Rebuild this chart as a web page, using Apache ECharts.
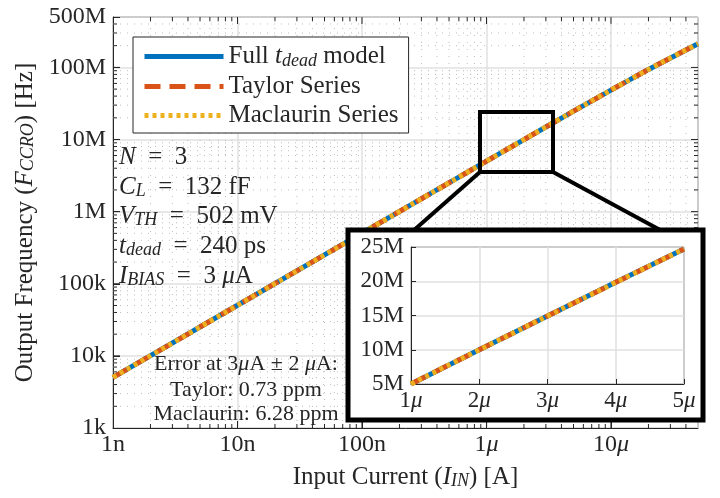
<!DOCTYPE html>
<html>
<head>
<meta charset="utf-8">
<script src="https://cdn.jsdelivr.net/npm/echarts@6/dist/echarts.min.js"></script>
<style>
html, body { margin: 0; padding: 0; background: #fff; }
#chart { width: 720px; height: 498px; }
</style>
</head>
<body>
<div id="chart"></div>
<script>
// input current [A] and output frequency [Hz]
var currentA = [1e-9, 1e-8, 1e-7, 1e-6, 2e-6, 3e-6, 4e-6, 5e-6, 1e-5, 2e-5, 5e-5];
var fullModelHz = [5.03e3, 5.03e4, 5.03e5, 5.01e6, 9.99e6, 14.93e6, 19.84e6, 24.71e6, 48.5e6, 93.8e6, 213e6];
var taylorHz = [5.03e3, 5.03e4, 5.03e5, 5.01e6, 9.99e6, 14.93e6, 19.84e6, 24.71e6, 48.5e6, 93.8e6, 213e6];
var maclaurinHz = [5.03e3, 5.03e4, 5.03e5, 5.01e6, 9.99e6, 14.93e6, 19.84e6, 24.71e6, 48.5e6, 93.8e6, 213e6];

// tick labels
var xTickValues = [1e-9, 1e-8, 1e-7, 1e-6, 1e-5];
var xTickLabels = ['1n', '10n', '100n', '1μ', '10μ'];
var yTickValues = [1e3, 1e4, 1e5, 1e6, 1e7, 1e8, 5e8];
var yTickLabels = ['1k', '10k', '100k', '1M', '10M', '100M', '500M'];
var insetXTickValues = [1e-6, 2e-6, 3e-6, 4e-6, 5e-6];
var insetXTickLabels = ['1μ', '2μ', '3μ', '4μ', '5μ'];
var insetYTickValues = [5e6, 10e6, 15e6, 20e6, 25e6];
var insetYTickLabels = ['5M', '10M', '15M', '20M', '25M'];

var X_MIN = 1e-9, X_MAX = 5e-5, Y_MIN = 1e3, Y_MAX = 5e8;
var FONT = 'Liberation Serif';
var INK = '#262626';
var COLORS = ['#0072BD', '#D95319', '#EDB120'];
var DASH = [16, 9], DOT = [4, 4], LW = 5;

// grid/tick positions on the log axes: [value, other-axis min, major?]
var xGridPos = [], yGridPos = [];
for (var e = -9; e <= -5; e++) {
  for (var m = 1; m <= 9; m++) {
    var v = m * Math.pow(10, e);
    if (v > X_MIN * 1.001 && v < X_MAX * 0.999) xGridPos.push([v, Y_MIN, m === 1 ? 1 : 0]);
  }
}
for (var e2 = 3; e2 <= 8; e2++) {
  for (var m2 = 1; m2 <= 9; m2++) {
    var w = m2 * Math.pow(10, e2);
    if (w > Y_MIN * 1.001 && w < Y_MAX * 0.999) yGridPos.push([X_MIN, w, m2 === 1 ? 1 : 0]);
  }
}

function pick(values, labels, v, logScale) {
  for (var i = 0; i < values.length; i++) {
    var d = logScale ? Math.abs(Math.log10(v) - Math.log10(values[i])) : Math.abs(v - values[i]) / values[i];
    if (d < 0.01) return labels[i].replace('μ', '{i|μ}');
  }
  return '';
}

function pairs(xs, ys, lo, hi) {
  var out = [];
  for (var i = 0; i < xs.length; i++) {
    if (lo === undefined || (xs[i] >= lo && xs[i] <= hi)) out.push([xs[i], ys[i]]);
  }
  return out;
}

// dotted minor grid + mirrored ticks, positioned through the axes
function gridRender(vertical) {
  return function (params, api) {
    var a, b;
    var major = api.value(2) === 1;
    if (vertical) {
      a = api.coord([api.value(0), Y_MIN]);
      b = api.coord([api.value(0), Y_MAX]);
    } else {
      a = api.coord([X_MIN, api.value(1)]);
      b = api.coord([X_MAX, api.value(1)]);
    }
    var t = major ? 7 : 4;
    var tickStyle = { stroke: INK, lineWidth: 1 };
    var children = [
      { type: 'line', shape: vertical ? { x1: a[0], y1: a[1], x2: a[0], y2: a[1] - t } : { x1: a[0], y1: a[1], x2: a[0] + t, y2: a[1] },
        style: tickStyle },
      { type: 'line', shape: vertical ? { x1: b[0], y1: b[1], x2: b[0], y2: b[1] + t } : { x1: b[0], y1: b[1], x2: b[0] - t, y2: b[1] },
        style: tickStyle }
    ];
    if (!major) {
      children.unshift({ type: 'line', shape: { x1: a[0], y1: a[1], x2: b[0], y2: b[1] },
        style: { stroke: '#bdbdbd', lineWidth: 1, lineDash: [1, 6] } });
    }
    return { type: 'group', children: children };
  };
}

function makeRich(size) {
  return {
    i: { fontStyle: 'italic', fontFamily: FONT, fontSize: size, color: INK },
    s: { fontStyle: 'italic', fontFamily: FONT, fontSize: Math.round(size * 0.7), color: INK, lineHeight: 9, verticalAlign: 'bottom' },
    n: { fontFamily: FONT, fontSize: size, color: INK, lineHeight: size + 2 }
  };
}

function mathText(x, y, text) {
  return {
    type: 'text', x: x, y: y, z: 6,
    style: {
      text: text, fill: INK,
      font: '25px "' + FONT + '"',
      verticalAlign: 'middle',
      rich: makeRich(25)
    }
  };
}

function centerText(x, y, text) {
  return {
    type: 'text', x: x, y: y, z: 6,
    style: {
      text: text, fill: INK,
      font: '22px "' + FONT + '"',
      align: 'center', verticalAlign: 'middle',
      rich: { i: { fontStyle: 'italic', fontFamily: FONT, fontSize: 22, color: INK } }
    }
  };
}

var chart = echarts.init(document.getElementById('chart'));

chart.setOption({
  animation: false,
  grid: [
    { left: 113, top: 17, right: 22, bottom: 70, show: true, borderColor: INK, borderWidth: 1, z: 0,
      containLabel: false, outerBoundsMode: 'none' },
    { left: 411, top: 247, right: 36, bottom: 114, show: true, borderColor: INK, borderWidth: 1, backgroundColor: '#fff', z: 10,
      containLabel: false, outerBoundsMode: 'none' }
  ],
  legend: {
    left: 133, top: 37, orient: 'vertical',
    itemWidth: 79, itemHeight: 26, itemGap: 4, itemTextGap: 7,
    padding: [7, 10, 5, 9],
    borderColor: INK, borderWidth: 1, borderRadius: 0, backgroundColor: '#fff',
    itemStyle: { opacity: 0 },
    lineStyle: { width: LW },
    data: ['Full', 'Taylor Series', 'Maclaurin Series'],
    formatter: function (name) {
      if (name === 'Full') return '{n|Full }{i|t}{s|dead}{n| model}';
      return '{n|' + name + '}';
    },
    textStyle: { fontFamily: FONT, fontSize: 25, color: INK, rich: makeRich(25) }
  },
  xAxis: [
    {
      type: 'log', logBase: 10, gridIndex: 0, min: X_MIN, max: X_MAX,
      name: 'Input Current ({i|I}{s|IN}) [A]', nameLocation: 'middle', nameGap: 37,
      nameTextStyle: { fontFamily: FONT, fontSize: 25, color: INK, rich: makeRich(25) },
      axisLine: { lineStyle: { color: INK, width: 1 } },
      axisTick: { inside: true, length: 7, lineStyle: { color: INK } },
      splitLine: { show: true, lineStyle: { color: '#e0e0e0', width: 1.5 } },
      axisLabel: {
        fontFamily: FONT, fontSize: 24, color: INK, margin: 5, rich: makeRich(24),
        showMaxLabel: false,
        formatter: function (v) { return pick(xTickValues, xTickLabels, v, true); }
      }
    },
    {
      type: 'value', gridIndex: 1, min: 1e-6, max: 5e-6, interval: 1e-6, z: 10,
      axisLine: { lineStyle: { color: INK, width: 1 } },
      axisTick: { inside: true, length: 5, lineStyle: { color: INK } },
      splitLine: { show: true, lineStyle: { color: '#e0e0e0', width: 1.5 } },
      axisLabel: {
        fontFamily: FONT, fontSize: 23, color: INK, margin: 5, rich: makeRich(23),
        formatter: function (v) { return pick(insetXTickValues, insetXTickLabels, v, false); }
      }
    }
  ],
  yAxis: [
    {
      type: 'log', logBase: 10, gridIndex: 0, min: Y_MIN, max: Y_MAX, splitNumber: 6,
      name: 'Output Frequency ({i|F}{s|CCRO}) [Hz]', nameLocation: 'middle', nameGap: 63, nameRotate: 90,
      nameTextStyle: { fontFamily: FONT, fontSize: 25, color: INK, rich: makeRich(25) },
      axisLine: { lineStyle: { color: INK, width: 1 } },
      axisTick: { inside: true, length: 7, lineStyle: { color: INK } },
      splitLine: { show: true, lineStyle: { color: '#e0e0e0', width: 1.5 } },
      axisLabel: {
        fontFamily: FONT, fontSize: 24, color: INK, margin: 7, rich: makeRich(24),
        showMaxLabel: true,
        formatter: function (v) { return pick(yTickValues, yTickLabels, v, true); }
      }
    },
    {
      type: 'value', gridIndex: 1, min: 5e6, max: 25e6, interval: 5e6, z: 10,
      axisLine: { lineStyle: { color: INK, width: 1 } },
      axisTick: { inside: true, length: 5, lineStyle: { color: INK } },
      splitLine: { show: true, lineStyle: { color: '#e0e0e0', width: 1.5 } },
      axisLabel: {
        fontFamily: FONT, fontSize: 23, color: INK, margin: 7,
        formatter: function (v) { return pick(insetYTickValues, insetYTickLabels, v, false); }
      }
    }
  ],
  series: [
    { type: 'custom', xAxisIndex: 0, yAxisIndex: 0, z: 1, silent: true, renderItem: gridRender(true), data: xGridPos },
    { type: 'custom', xAxisIndex: 0, yAxisIndex: 0, z: 1, silent: true, renderItem: gridRender(false), data: yGridPos },
    { name: 'Full', type: 'line', symbol: 'none', z: 2, data: pairs(currentA, fullModelHz),
      itemStyle: { color: COLORS[0] }, lineStyle: { color: COLORS[0], width: LW } },
    { name: 'Taylor Series', type: 'line', symbol: 'none', z: 3, data: pairs(currentA, taylorHz),
      itemStyle: { color: COLORS[1] }, lineStyle: { color: COLORS[1], width: LW, type: DASH } },
    { name: 'Maclaurin Series', type: 'line', symbol: 'none', z: 4, data: pairs(currentA, maclaurinHz),
      itemStyle: { color: COLORS[2] }, lineStyle: { color: COLORS[2], width: LW, type: DOT } },
    { name: 'Full', type: 'line', symbol: 'none', xAxisIndex: 1, yAxisIndex: 1, z: 11,
      data: pairs(currentA, fullModelHz, 1e-6, 5e-6),
      itemStyle: { color: COLORS[0] }, lineStyle: { color: COLORS[0], width: LW } },
    { name: 'Taylor Series', type: 'line', symbol: 'none', xAxisIndex: 1, yAxisIndex: 1, z: 12,
      data: pairs(currentA, taylorHz, 1e-6, 5e-6),
      itemStyle: { color: COLORS[1] }, lineStyle: { color: COLORS[1], width: LW, type: DASH } },
    { name: 'Maclaurin Series', type: 'line', symbol: 'none', xAxisIndex: 1, yAxisIndex: 1, z: 13,
      data: pairs(currentA, maclaurinHz, 1e-6, 5e-6),
      itemStyle: { color: COLORS[2] }, lineStyle: { color: COLORS[2], width: LW, type: DOT } }
  ],
  graphic: [
    // zoom window and connectors
    { type: 'rect', z: 5, shape: { x: 480, y: 112, width: 73, height: 60 }, style: { fill: null, stroke: '#000', lineWidth: 4 } },
    { type: 'line', z: 5, shape: { x1: 480, y1: 172, x2: 413, y2: 231 }, style: { stroke: '#000', lineWidth: 4 } },
    { type: 'line', z: 5, shape: { x1: 553, y1: 172, x2: 662, y2: 231 }, style: { stroke: '#000', lineWidth: 4 } },
    // inset frame
    { type: 'rect', z: 5, shape: { x: 348, y: 230, width: 355, height: 190 }, style: { fill: '#fff', stroke: '#000', lineWidth: 5 } },
    // parameters
    mathText(119, 157, '{i|N}{n|  =  3}'),
    mathText(119, 187, '{i|C}{s|L}{n|  =  132 fF}'),
    mathText(119, 216, '{i|V}{s|TH}{n|  =  502 mV}'),
    mathText(119, 246, '{i|t}{s|dead}{n|  =  240 ps}'),
    mathText(119, 276, '{i|I}{s|BIAS}{n|  =  3 }{i|μ}{n|A}'),
    // error summary
    centerText(246, 364, 'Error at 3{i|μ}A ± 2 {i|μ}A:'),
    centerText(246, 390, 'Taylor: 0.73 ppm'),
    centerText(246, 414, 'Maclaurin: 6.28 ppm')
  ]
});
</script>
</body>
</html>
